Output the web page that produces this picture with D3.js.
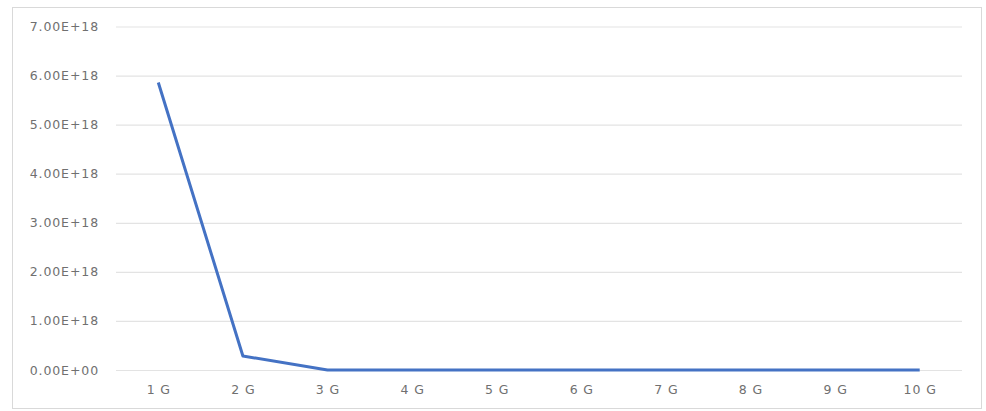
<!DOCTYPE html>
<html><head><meta charset="utf-8">
<script src="https://cdn.jsdelivr.net/npm/d3@7"></script>
<style>body{margin:0;background:#fff}svg{display:block}</style>
</head><body>
<script>
const categories = ["1 G","2 G","3 G","4 G","5 G","6 G","7 G","8 G","9 G","10 G"];
const values = [5.86e18, 0.285e18, 0, 0, 0, 0, 0, 0, 0, 0];
const yTicks = [0, 1e18, 2e18, 3e18, 4e18, 5e18, 6e18, 7e18];
const yTickLabels = ["0.00E+00","1.00E+18","2.00E+18","3.00E+18","4.00E+18","5.00E+18","6.00E+18","7.00E+18"];

const W = 986, H = 411;
const svg = d3.select("body").append("svg").attr("width", W).attr("height", H);
svg.append("rect").attr("x", 12.5).attr("y", 7.5).attr("width", 969).attr("height", 401)
  .attr("fill", "#fff").attr("stroke", "#d9d9d9").attr("stroke-width", 1);

const x = d3.scalePoint().domain(categories).range([116, 962]).padding(0.5);
const y = d3.scaleLinear().domain([0, 7e18]).range([370, 26.5]);

const fontFam = "DejaVu Sans, Verdana, sans-serif";

const yAxis = d3.axisLeft(y).tickValues(yTicks).tickSize(-(962 - 116))
  .tickFormat((d, i) => yTickLabels[i]).tickPadding(17);
const gy = svg.append("g").attr("transform", "translate(116,0)").call(yAxis);
gy.select(".domain").remove();
gy.selectAll(".tick line").attr("stroke", "#e3e3e3").attr("stroke-width", 1.2);
gy.selectAll(".tick text").attr("fill", "#707070").attr("font-family", fontFam)
  .attr("font-size", 12.5).attr("letter-spacing", 0.9);

const xAxis = d3.axisBottom(x).tickSize(0).tickPadding(15);
const gx = svg.append("g").attr("transform", "translate(0,370)").call(xAxis);
gx.select(".domain").remove();
gx.selectAll(".tick text").attr("fill", "#707070").attr("font-family", fontFam)
  .attr("font-size", 12.5).attr("letter-spacing", 0.9);

const line = d3.line().x((d, i) => x(categories[i])).y(d => y(d));
svg.append("path").datum(values).attr("d", line).attr("fill", "none")
  .attr("stroke", "#4472c4").attr("stroke-width", 3).attr("stroke-linejoin", "round");
</script>
</body></html>
